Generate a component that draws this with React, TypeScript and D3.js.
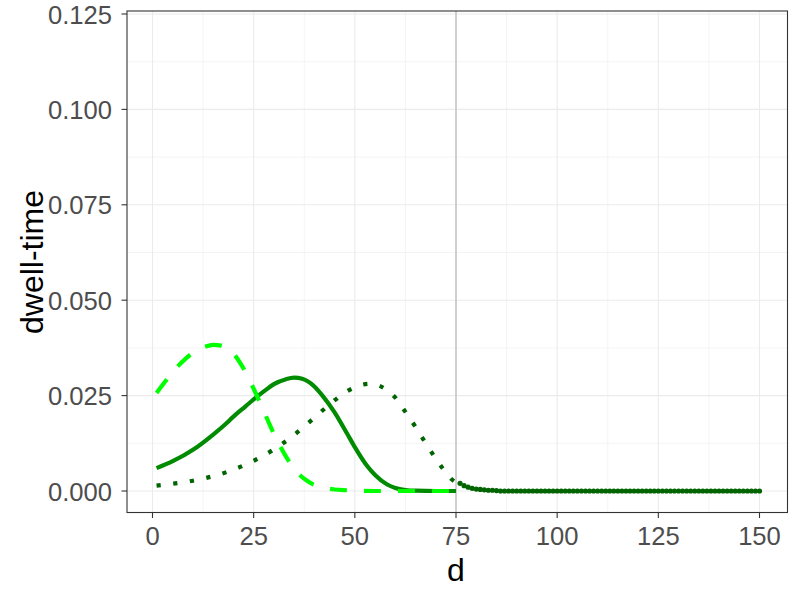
import React from "react";
import * as d3 from "d3";

// ---- data ----
const xTicks = [0, 25, 50, 75, 100, 125, 150];
const yTicks = [0, 0.025, 0.05, 0.075, 0.1, 0.125];
const xMinor = [12.5, 37.5, 62.5, 87.5, 112.5, 137.5];
const yMinor = [0.0125, 0.0375, 0.0625, 0.0875, 0.1125];
const vLineAt = 75;

const dashedD = [1, 3, 5, 8, 10, 13, 15, 17, 20, 22, 25, 28, 30, 33, 35, 38, 40, 43, 45, 48, 50, 55, 60, 65, 70, 75];
const dashedV = [0.0257, 0.0285, 0.0312, 0.0345, 0.0362, 0.0378, 0.0383, 0.0381, 0.036, 0.033, 0.0268, 0.0197, 0.015, 0.009, 0.0058, 0.0028, 0.0016, 0.0007, 0.0004, 0.0002, 0.0001, 0, 0, 0, 0, 0];

const solidD = [1, 5, 10, 15, 18, 20, 23, 25, 28, 30, 33, 35, 37, 40, 42, 45, 48, 50, 53, 55, 58, 60, 63, 65, 70, 75];
const solidV = [0.006, 0.0078, 0.0108, 0.0148, 0.0175, 0.0195, 0.0222, 0.024, 0.0265, 0.028, 0.0293, 0.0297, 0.0294, 0.0274, 0.025, 0.0206, 0.0152, 0.0115, 0.0066, 0.0042, 0.0017, 0.0008, 0.0002, 0.0001, 0, 0];

const dottedD = [1, 5, 10, 15, 20, 25, 30, 35, 40, 44, 48, 50, 52, 54, 56, 58, 60, 62, 65, 67, 70, 72, 74, 75];
const dottedV = [0.0014, 0.0019, 0.0027, 0.0039, 0.0056, 0.0079, 0.0109, 0.0147, 0.0192, 0.0229, 0.0261, 0.0272, 0.0279, 0.0281, 0.0276, 0.0264, 0.0245, 0.0215, 0.0168, 0.0134, 0.0085, 0.0055, 0.003, 0.0022];

const pointD = d3.range(76, 151);
const pointV = [
  0.002, 0.0014, 0.001, 0.0007, 0.0005, 0.0004, 0.0003, 0.0002, 0.0002, 0.0001,
  0, 0, 0, 0, 0, 0, 0, 0, 0, 0,
  0, 0, 0, 0, 0, 0, 0, 0, 0, 0,
  0, 0, 0, 0, 0, 0, 0, 0, 0, 0,
  0, 0, 0, 0, 0, 0, 0, 0, 0, 0,
  0, 0, 0, 0, 0, 0, 0, 0, 0, 0,
  0, 0, 0, 0, 0, 0, 0, 0, 0, 0,
  0, 0, 0, 0, 0,
];

const W = 800, H = 600;
const panel = { left: 127, right: 787.5, top: 11, bottom: 512.5 };
const FONT = "'Liberation Sans', Arial, Helvetica, sans-serif";

export default function App() {
  const x = d3.scaleLinear().domain([0, 150]).range([152.5, 759.5]);
  const y = d3.scaleLinear().domain([0, 0.125]).range([491, 14]);

  const line = d3
    .line<[number, number]>()
    .x((p) => x(p[0]))
    .y((p) => y(p[1]))
    .curve(d3.curveMonotoneX);

  const zip = (a: number[], b: number[]) => a.map((v, i) => [v, b[i]] as [number, number]);

  const gridColor = "#EBEBEB";

  return (
    <svg width={W} height={H} style={{ position: "absolute", left: 0, top: 0, background: "#fff" }} fontFamily={FONT}>
      <rect x={0} y={0} width={W} height={H} fill="#fff" />
      <defs>
        <clipPath id="panel">
          <rect x={panel.left} y={panel.top} width={panel.right - panel.left} height={panel.bottom - panel.top} />
        </clipPath>
      </defs>
      {/* grid */}
      <g>
        {xMinor.map((t) => (
          <line key={"xm" + t} x1={x(t)} x2={x(t)} y1={panel.top} y2={panel.bottom} stroke={gridColor} strokeWidth={0.55} />
        ))}
        {yMinor.map((t) => (
          <line key={"ym" + t} x1={panel.left} x2={panel.right} y1={y(t)} y2={y(t)} stroke={gridColor} strokeWidth={0.55} />
        ))}
        {xTicks.map((t) => (
          <line key={"xg" + t} x1={x(t)} x2={x(t)} y1={panel.top} y2={panel.bottom} stroke={gridColor} strokeWidth={1.1} />
        ))}
        {yTicks.map((t) => (
          <line key={"yg" + t} x1={panel.left} x2={panel.right} y1={y(t)} y2={y(t)} stroke={gridColor} strokeWidth={1.1} />
        ))}
      </g>
      {/* vertical reference line */}
      <line x1={x(vLineAt)} x2={x(vLineAt)} y1={panel.top} y2={panel.bottom} stroke="#B3B3B3" strokeWidth={1.1} />
      <g clipPath="url(#panel)" fill="none">
        <path d={line(zip(solidD, solidV)) || ""} stroke="#008B00" strokeWidth={4.2} />
        <path d={line(zip(dashedD, dashedV)) || ""} stroke="#00FF00" strokeWidth={4.2} strokeDasharray="17,17" />
        <path d={line(zip(dottedD, dottedV)) || ""} stroke="#006400" strokeWidth={4.2} strokeDasharray="4.2,12.6" />
        {pointD.map((d, i) => (
          <circle key={"p" + d} cx={x(d)} cy={y(pointV[i])} r={2.6} fill="#006400" />
        ))}
      </g>
      {/* panel border */}
      <rect x={panel.left} y={panel.top} width={panel.right - panel.left} height={panel.bottom - panel.top} fill="none" stroke="#333333" strokeWidth={1.1} />
      {/* axes ticks */}
      {xTicks.map((t) => (
        <g key={"xt" + t}>
          <line x1={x(t)} x2={x(t)} y1={panel.bottom} y2={panel.bottom + 5.5} stroke="#333333" strokeWidth={1.1} />
          <text x={x(t)} y={545} textAnchor="middle" fontSize={25.6} fill="#4D4D4D">
            {d3.format(".0f")(t)}
          </text>
        </g>
      ))}
      {yTicks.map((t) => (
        <g key={"yt" + t}>
          <line x1={panel.left - 5.5} x2={panel.left} y1={y(t)} y2={y(t)} stroke="#333333" strokeWidth={1.1} />
          <text x={112} y={y(t) + 9.5} textAnchor="end" fontSize={25.6} fill="#4D4D4D">
            {d3.format(".3f")(t)}
          </text>
        </g>
      ))}
      {/* axis titles */}
      <text x={456} y={581} textAnchor="middle" fontSize={32} fill="#000">
        d
      </text>
      <text transform={`translate(43, 262) rotate(-90)`} textAnchor="middle" fontSize={32} fill="#000">
        dwell-time
      </text>
    </svg>
  );
}
